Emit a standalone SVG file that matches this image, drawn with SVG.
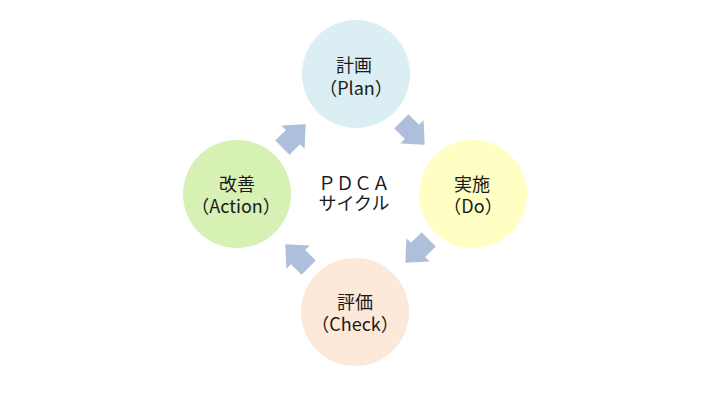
<svg xmlns="http://www.w3.org/2000/svg" xmlns:xlink="http://www.w3.org/1999/xlink" width="710" height="400" viewBox="0 0 710 400">
<style>
text{font-family:"Noto Sans CJK JP","Noto Sans",sans-serif;fill:#1a1a1a;text-anchor:middle;font-size:18px}
.arr{fill:#aebfdb}
</style>
<defs>
<polygon id="arrow" points="-16.5,-10 -1.5,-10 -1.5,-16.5 16.5,0 -1.5,16.5 -1.5,10 -16.5,10"/>
</defs>
<rect width="710" height="400" fill="#ffffff"/>
<g id="connectors" class="arr">
<use xlink:href="#arrow" transform="translate(413,133) rotate(45)"/>
<use xlink:href="#arrow" transform="translate(417,251) rotate(135)"/>
<use xlink:href="#arrow" transform="translate(297,256) rotate(225)"/>
<use xlink:href="#arrow" transform="translate(294,136) rotate(-45)"/>
</g>
<g id="plan">
<circle cx="356" cy="74" r="54" fill="#daeef3"/>
<text><tspan x="354" y="72">計画</tspan><tspan x="356" y="95">（Plan）</tspan></text>
</g>
<g id="do">
<circle cx="473" cy="194" r="54" fill="#ffffc4"/>
<text><tspan x="472" y="191">実施</tspan><tspan x="473" y="213">（Do）</tspan></text>
</g>
<g id="check">
<circle cx="355" cy="312" r="54" fill="#fde9d9"/>
<text><tspan x="355" y="309">評価</tspan><tspan x="355" y="331">（Check）</tspan></text>
</g>
<g id="action">
<circle cx="237" cy="194" r="54" fill="#d7f0b4"/>
<text><tspan x="237" y="191">改善</tspan><tspan x="236" y="213">（Action）</tspan></text>
</g>
<g id="center">
<text font-size="16.5"><tspan x="354" y="190">ＰＤＣＡ</tspan><tspan x="354" y="210">サイクル</tspan></text>
</g>
</svg>
